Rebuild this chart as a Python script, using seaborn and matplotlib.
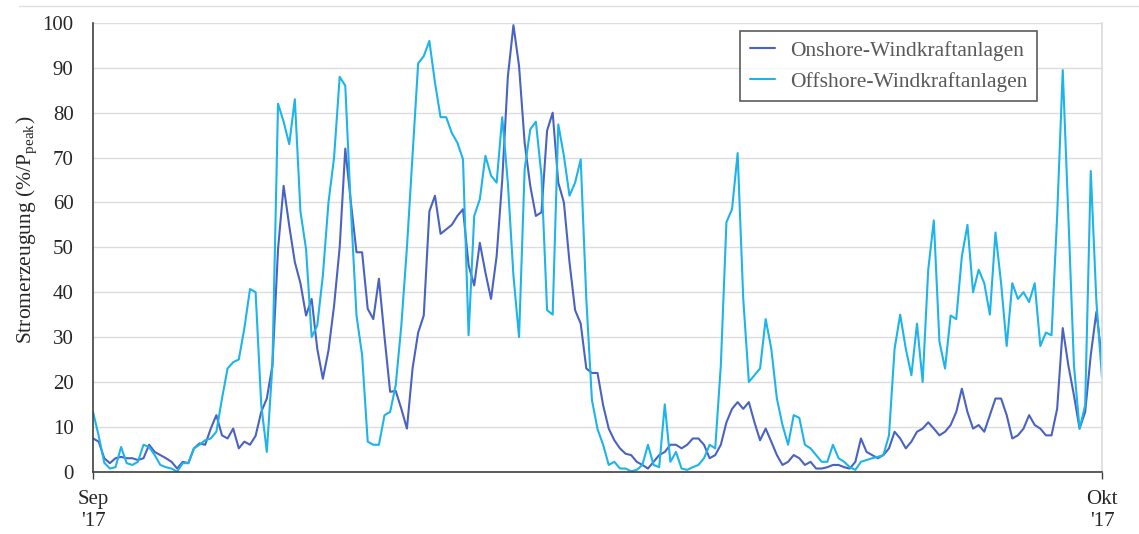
import matplotlib.pyplot as plt
import numpy as np
import pandas as pd
import seaborn as sns
from matplotlib.lines import Line2D

# 4-hourly values, 1 Sep 2017 00:00 .. 1 Oct 2017 00:00 (% of P_peak)
onshore = [
    7.4, 6.7, 3, 1.9, 3, 3.3, 3, 3, 2.6, 3,
    6, 4.4, 3.7, 3, 2.2, 0.7, 2.2, 1.9, 5.2, 6.3,
    6, 9.6, 12.6, 8.1, 7.4, 9.6, 5.2, 6.7, 6, 8,
    13.3, 16.3, 23.7, 49.6, 63.7, 54.8, 46.7, 42, 34.8, 38.5,
    27.4, 20.7, 27, 37, 50, 72, 60, 48.9, 48.9, 36.3,
    34, 43, 30, 17.8, 18, 14, 9.6, 23, 31, 34.8,
    58, 61.5, 53, 54, 55, 57, 58.5, 46, 41.5, 51,
    44.4, 38.5, 48, 65, 88, 99.5, 90.4, 73.3, 63.7, 57,
    57.8, 76, 80, 64.4, 60, 46.7, 36, 33, 23, 22,
    22, 14.8, 9.6, 7, 5.2, 4, 3.7, 2.2, 1.5, 0.7,
    2.2, 3.7, 4.4, 6, 6, 5.2, 6, 7.4, 7.4, 6,
    3, 3.7, 6, 11, 14, 15.5, 14, 15.5, 11, 7,
    9.6, 6.7, 3.7, 1.5, 2.2, 3.7, 3, 1.5, 2.2, 0.7,
    0.7, 1, 1.5, 1.5, 1, 0.7, 2.2, 7.4, 4.4, 3.7,
    3, 3.7, 5.2, 8.9, 7.4, 5.2, 6.7, 8.9, 9.6, 11,
    9.6, 8.1, 8.9, 10.4, 13.3, 18.5, 13.3, 9.6, 10.4, 8.9,
    12.6, 16.3, 16.3, 12.6, 7.4, 8.1, 9.6, 12.6, 10.4, 9.6,
    8.1, 8.1, 14, 32, 23.7, 17, 9.6, 13.3, 26, 35.6,
    25,
]
offshore = [
    13.3, 8, 2, 0.7, 1, 5.5, 1.9, 1.5, 2.2, 6,
    5.5, 3.7, 1.5, 1, 0.7, 0, 1.9, 1.9, 5.2, 6,
    7, 7.4, 8.9, 16.3, 23, 24.4, 25, 32, 40.7, 40,
    15, 4.4, 23.7, 82, 78, 73, 83, 58, 49.6, 30,
    32.6, 43.7, 60, 70, 88, 86, 58.5, 34.8, 26, 6.7,
    6, 6, 12.6, 13.3, 19.3, 32.6, 50, 70.4, 91, 92.6,
    96, 86.7, 79, 79, 75.5, 73.3, 69.6, 30.4, 57, 60.7,
    70.4, 66, 64.4, 79, 64.4, 43.7, 30, 67.4, 76.3, 78,
    66, 36, 35, 77.4, 70.4, 61.5, 64.4, 69.6, 38.5, 16,
    9.5, 6, 1.5, 2.2, 0.7, 0.7, 0.1, 0.4, 1.5, 6,
    1.5, 1, 15, 2.2, 4.4, 0.7, 0.4, 1, 1.5, 3,
    6, 5.2, 23.7, 55.6, 58.5, 71, 38.5, 20, 21.5, 23,
    34, 27.4, 16.3, 10.4, 6, 12.6, 12, 6, 5.2, 3.7,
    2.2, 2.2, 6, 3, 2.2, 1, 0.4, 2.2, 2.6, 3,
    3.3, 3.7, 8.1, 27.4, 35, 27.4, 21.5, 33, 20, 45,
    56, 29, 23, 34.8, 34, 48, 55, 40, 45, 42,
    35, 53.3, 42, 28, 42, 38.5, 40, 37.8, 42, 28,
    31, 30.4, 57, 89.5, 57, 23.7, 9.6, 14.8, 67, 38,
    21,
]
series_names = ["Onshore-Windkraftanlagen", "Offshore-Windkraftanlagen"]
series_colors = ["#4a62c2", "#1db4ea"]
x_tick_labels = ["Sep\n'17", "Okt\n'17"]

times = pd.date_range("2017-09-01", "2017-10-01", freq="4h")
df = pd.concat([
    pd.DataFrame({"time": times, "value": onshore, "series": series_names[0]}),
    pd.DataFrame({"time": times, "value": offshore, "series": series_names[1]}),
])

sns.set_theme(style="white")
plt.rcParams["font.family"] = ["Liberation Serif", "DejaVu Serif"]
plt.rcParams["mathtext.fontset"] = "stix"

fig = plt.figure(figsize=(11.39, 5.34), dpi=100)
ax = fig.add_axes([0.0817, 0.1167, 0.8858, 0.8403])

sns.lineplot(data=df, x="time", y="value", hue="series", hue_order=series_names,
             palette=series_colors, linewidth=1.5, ax=ax)

ax.set_xlim(times[0], times[-1])
ax.set_ylim(0, 100)
ax.set_yticks(np.arange(0, 101, 10))
ax.set_xticks([times[0], times[-1]])
ax.set_xticklabels(x_tick_labels, fontsize=15, color="#262626", linespacing=1.2)
ax.tick_params(axis="y", labelsize=15, labelcolor="#262626", length=0, pad=14)
ax.tick_params(axis="x", length=5, width=1, color="#404040", bottom=True, pad=8)
ax.yaxis.grid(True, color="#dcdcdc", linewidth=1)
ax.set_axisbelow(True)

for side in ["left", "bottom"]:
    ax.spines[side].set_color("#404040")
    ax.spines[side].set_linewidth(1.2)
ax.spines["right"].set_color("#dcdcdc")
ax.spines["top"].set_visible(False)

ax.set_xlabel("")
ax.set_ylabel(r"Stromerzeugung (%/P$_{\mathregular{peak}}$)", fontsize=15.5,
              color="#262626")
ax.yaxis.set_label_coords(-0.054, 0.54)

leg = ax.legend(loc="upper right", bbox_to_anchor=(0.9356, 0.982), fontsize=15.5,
                frameon=True, fancybox=False, handlelength=1.15, handletextpad=0.7,
                borderpad=0.45, labelspacing=0.5, borderaxespad=0)
leg.get_frame().set_edgecolor("#333333")
leg.get_frame().set_linewidth(1.2)
for t in leg.get_texts():
    t.set_color("#595959")

fig.add_artist(Line2D([0.017, 1.0], [0.989, 0.989], color="#e0e0e0", linewidth=1))

fig.savefig("out.png", dpi=100)
